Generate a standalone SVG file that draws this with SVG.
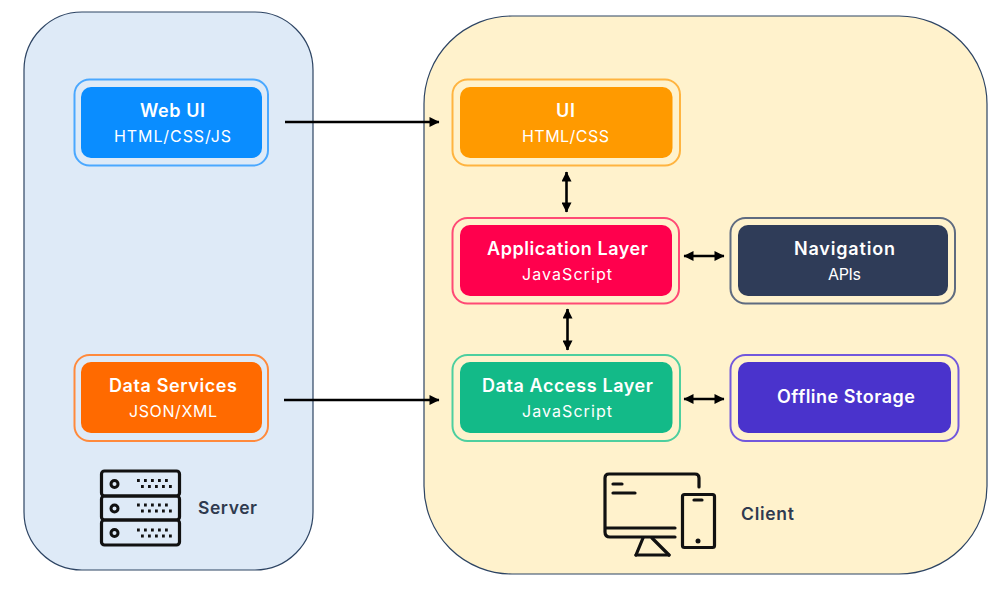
<svg xmlns="http://www.w3.org/2000/svg" width="1003" height="592" viewBox="0 0 1003 592">
<style>
text{font-family:"Inter","Liberation Sans",sans-serif;text-anchor:middle;fill:#fff}
.t{font-size:18px;font-weight:600}
.s{font-size:16px;font-weight:400}
.l{font-size:17.500px;font-weight:600;fill:#2f3a4f}
.o{fill:none;stroke-width:2}
.c{fill:none;stroke:#000;stroke-width:2.600}
.i{fill:none;stroke:#111;stroke-width:3.200;stroke-linejoin:round;stroke-linecap:round}
.d{fill:#111}
</style>
<defs>
<marker id="a" viewBox="0 0 10 10" refX="9.500" refY="5" markerWidth="11" markerHeight="10" markerUnits="userSpaceOnUse" orient="auto-start-reverse"><path d="M0 0L10 5L0 10Z" fill="#000"/></marker>
</defs>
<rect id="server-panel" x="24" y="12" width="289" height="558" rx="58" fill="#deeaf7" stroke="#2d4463" stroke-width="1.200"/>
<rect id="client-panel" x="424" y="16" width="563" height="558" rx="88" fill="#fff2cc" stroke="#2d4463" stroke-width="1.200"/>
<g id="web-ui"><rect class="o" x="74.500" y="79.500" width="193.500" height="86" rx="15" stroke="#4aa8ff"/><rect x="81" y="87" width="181" height="71" rx="10" fill="#0a8dff"/><text class="t" x="172.500" y="117" textLength="65">Web UI</text><text class="s" x="172.500" y="141.500" textLength="117">HTML/CSS/JS</text></g>
<g id="data-services"><rect class="o" x="74.500" y="355" width="193.500" height="86" rx="15" stroke="#ff8a3c"/><rect x="81" y="362" width="181" height="71" rx="10" fill="#ff6a00"/><text class="t" x="173" y="392" textLength="128">Data Services</text><text class="s" x="173" y="416.500" textLength="88">JSON/XML</text></g>
<g id="ui"><rect class="o" x="452.500" y="79.500" width="227.500" height="86" rx="15" stroke="#ffb440"/><rect x="460" y="87" width="212.500" height="71" rx="10" fill="#ff9a00"/><text class="t" x="565.500" y="117" textLength="19">UI</text><text class="s" x="565.500" y="141.500" textLength="87">HTML/CSS</text></g>
<g id="application-layer"><rect class="o" x="452.500" y="218" width="226.500" height="85.500" rx="15" stroke="#ff4a75"/><rect x="460" y="225" width="212" height="71" rx="10" fill="#ff004d"/><text class="t" x="567.500" y="255" textLength="161">Application Layer</text><text class="s" x="567" y="279.500" textLength="90">JavaScript</text></g>
<g id="data-access-layer"><rect class="o" x="452.500" y="355" width="227.500" height="86" rx="15" stroke="#4dcf9f"/><rect x="460" y="362" width="212.500" height="71" rx="10" fill="#13ba88"/><text class="t" x="567.500" y="392" textLength="171">Data Access Layer</text><text class="s" x="567" y="416.500" textLength="90">JavaScript</text></g>
<g id="navigation"><rect class="o" x="730.500" y="218" width="224.500" height="85.500" rx="15" stroke="#5f6b80"/><rect x="738" y="225" width="210" height="71" rx="10" fill="#2f3c58"/><text class="t" x="844.500" y="255" textLength="101">Navigation</text><text class="s" x="844.500" y="279.500" textLength="33">APIs</text></g>
<g id="offline-storage"><rect class="o" x="730.500" y="355" width="228" height="86" rx="15" stroke="#7258dc"/><rect x="738" y="362" width="213" height="71" rx="10" fill="#4a33cc"/><text class="t" x="846" y="403" textLength="138">Offline Storage</text></g>
<g id="connectors">
<line class="c" x1="285" y1="122" x2="439" y2="122" marker-end="url(#a)"/>
<line class="c" x1="284" y1="400" x2="439" y2="400" marker-end="url(#a)"/>
<line class="c" x1="566.500" y1="172" x2="566.500" y2="212" marker-start="url(#a)" marker-end="url(#a)"/>
<line class="c" x1="567.500" y1="309" x2="567.500" y2="350" marker-start="url(#a)" marker-end="url(#a)"/>
<line class="c" x1="684" y1="256" x2="724" y2="256" marker-start="url(#a)" marker-end="url(#a)"/>
<line class="c" x1="684" y1="399" x2="724" y2="399" marker-start="url(#a)" marker-end="url(#a)"/>
</g>
<g id="server-icon">
<rect class="i" x="101.500" y="471" width="78" height="25" rx="3"/><rect class="i" x="101.500" y="496" width="78" height="24" rx="3"/><rect class="i" x="101.500" y="520" width="78" height="25" rx="3"/>
<circle cx="114.500" cy="484" r="3.500" fill="none" stroke="#111" stroke-width="3"/><circle cx="114.500" cy="508.500" r="3.500" fill="none" stroke="#111" stroke-width="3"/><circle cx="114.500" cy="533" r="3.500" fill="none" stroke="#111" stroke-width="3"/>
<path d="M137 480.500h35M141 486.500h32M137 505h35M141 511h32M137 530h35M141 536h32" fill="none" stroke="#111" stroke-width="2.800" stroke-dasharray="2.800 4.200"/>
</g>
<text id="server-label" class="l" x="227.500" y="514" textLength="59">Server</text>
<g id="client-icon">
<path class="i" d="M699 487V478Q699 474 695 474H609Q605 474 605 478V532Q605 537 610 537H675M606 528H675"/>
<path class="i" d="M643 538L636 555M652 538L669 555M613 484H622M613 493H635"/>
<path d="M636 555H669" class="i"/>
<rect class="i" x="682.500" y="494.500" width="32" height="53" rx="2"/>
<path class="i" d="M694 500H702"/><circle class="d" cx="698" cy="541" r="2.500"/>
</g>
<text id="client-label" class="l" x="767.500" y="520" textLength="53">Client</text>
</svg>
